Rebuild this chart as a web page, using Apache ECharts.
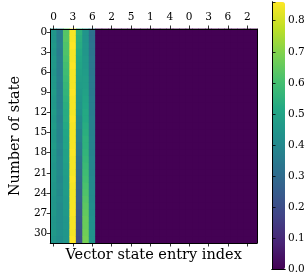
<!DOCTYPE html>
<html>
<head>
<meta charset="utf-8">
<script src="https://cdn.jsdelivr.net/npm/echarts@6/dist/echarts.min.js"></script>
<style>html,body{margin:0;padding:0;background:#fff;}#c{width:308px;height:276px;}</style>
</head>
<body>
<div id="c"></div>
<script>
// x tick labels (entry index mod 7), 32 columns
var xLabels = ['0','1','2','3','4','5','6','0','1','2','3','4','5','6','0','1','2','3','4','5','6','0','1','2','3','4','5','6','0','1','2','3'];
// y labels: state number 0..31
var yLabels = ['0','1','2','3','4','5','6','7','8','9','10','11','12','13','14','15','16','17','18','19','20','21','22','23','24','25','26','27','28','29','30','31'];
// values of the 7 non-zero columns, rows 0..31
var col0 = [0.45,0.45,0.46,0.45,0.46,0.46,0.45,0.46,0.46,0.47,0.46,0.46,0.47,0.46,0.47,0.46,0.46,0.47,0.46,0.46,0.45,0.46,0.46,0.45,0.46,0.45,0.45,0.46,0.45,0.45,0.46,0.45];
var col1 = [0.36,0.36,0.37,0.36,0.37,0.37,0.37,0.38,0.37,0.38,0.38,0.38,0.39,0.38,0.39,0.39,0.39,0.40,0.39,0.40,0.40,0.41,0.40,0.41,0.41,0.42,0.41,0.42,0.42,0.42,0.43,0.42];
var col2 = [0.63,0.63,0.62,0.62,0.61,0.60,0.59,0.58,0.57,0.56,0.55,0.54,0.53,0.53,0.52,0.51,0.50,0.50,0.49,0.49,0.48,0.48,0.47,0.47,0.47,0.46,0.46,0.46,0.45,0.45,0.45,0.45];
var col3 = [0.85,0.85,0.86,0.85,0.85,0.86,0.85,0.85,0.85,0.86,0.85,0.85,0.85,0.86,0.85,0.85,0.85,0.85,0.86,0.85,0.85,0.85,0.86,0.85,0.85,0.85,0.85,0.86,0.85,0.85,0.85,0.86];
var col4 = [0.55,0.54,0.53,0.52,0.51,0.50,0.49,0.48,0.47,0.46,0.45,0.44,0.43,0.41,0.40,0.38,0.37,0.35,0.34,0.32,0.31,0.30,0.29,0.28,0.27,0.26,0.25,0.24,0.23,0.22,0.21,0.20];
var col5 = [0.44,0.44,0.45,0.45,0.46,0.46,0.47,0.48,0.48,0.49,0.50,0.51,0.52,0.52,0.53,0.54,0.55,0.55,0.56,0.57,0.58,0.59,0.60,0.61,0.62,0.63,0.64,0.65,0.66,0.66,0.67,0.68];
var col6 = [0.32,0.32,0.33,0.33,0.34,0.34,0.34,0.35,0.35,0.35,0.36,0.36,0.36,0.37,0.37,0.37,0.38,0.38,0.38,0.39,0.39,0.39,0.40,0.40,0.41,0.41,0.42,0.42,0.43,0.43,0.44,0.44];
var otherColumnValue = 0;
var colorbarTicks = [0,0.1,0.2,0.3,0.4,0.5,0.6,0.7,0.8];
var colorMax = 0.86;

var cols = [col0,col1,col2,col3,col4,col5,col6];
var data = [];
for (var x = 0; x < xLabels.length; x++) {
  for (var y = 0; y < yLabels.length; y++) {
    var v = x < cols.length ? cols[x][y] : otherColumnValue;
    data.push([x, y, v]);
  }
}
var viridis = ['#440154','#482475','#414487','#355f8d','#2a788e','#21918c','#22a884','#44bf70','#7ad151','#bddf26','#fde725'];
var FONT = 'DejaVu Serif';
var lbl = {fontFamily: FONT, fontSize: 10.5, color: '#000'};
var tickStyle = {show: true, interval: 2, alignWithLabel: true, length: 3.5, inside: false, lineStyle: {color: '#000', width: 0.8}};
var lineStyle = {show: true, lineStyle: {color: '#000', width: 1}};

var chart = echarts.init(document.getElementById('c'), null, {renderer: 'canvas'});
var heat = {
  type: 'heatmap', xAxisIndex: 0, yAxisIndex: 0, data: data,
  emphasis: {disabled: true}, progressive: 0, itemStyle: {borderWidth: 0}
};
chart.setOption({
  animation: false,
  backgroundColor: '#fff',
  grid: [
    {left: 41, top: 29, width: 216, height: 214, show: true, backgroundColor: '#440154', borderWidth: 0},
    {left: 272, top: 2, width: 13, height: 267.5}
  ],
  xAxis: [
    {gridIndex: 0, type: 'category', position: 'top', data: xLabels, z: 10,
     axisLine: lineStyle, axisTick: tickStyle,
     axisLabel: Object.assign({interval: 2, margin: 6}, lbl), splitLine: {show: false}},
    {gridIndex: 0, type: 'category', position: 'bottom', data: xLabels, z: 10,
     axisLine: lineStyle, axisTick: tickStyle, axisLabel: {show: false}, splitLine: {show: false},
     name: 'Vector state entry index', nameLocation: 'middle', nameGap: 5,
     nameTextStyle: {fontFamily: FONT, fontSize: 14.5, color: '#000', verticalAlign: 'top'}},
    {gridIndex: 1, type: 'value', position: 'bottom', min: 0, max: 1, z: 10,
     axisLine: lineStyle, axisTick: {show: false}, axisLabel: {show: false}, splitLine: {show: false}},
    {gridIndex: 1, type: 'value', position: 'top', min: 0, max: 1, z: 10,
     axisLine: lineStyle, axisTick: {show: false}, axisLabel: {show: false}, splitLine: {show: false}}
  ],
  yAxis: [
    {gridIndex: 0, type: 'category', position: 'left', inverse: true, data: yLabels, z: 10,
     axisLine: lineStyle, axisTick: tickStyle,
     axisLabel: Object.assign({interval: 2, margin: 3}, lbl), splitLine: {show: false},
     name: 'Number of state', nameLocation: 'middle', nameGap: 23, nameRotate: 90,
     nameTextStyle: {fontFamily: FONT, fontSize: 14.5, color: '#000'}},
    {gridIndex: 0, type: 'category', position: 'right', inverse: true, data: yLabels, z: 10,
     axisLine: lineStyle, axisTick: {show: false}, axisLabel: {show: false}, splitLine: {show: false}},
    {gridIndex: 1, type: 'value', position: 'right', min: 0, max: colorMax, interval: 0.1, z: 10,
     axisLine: lineStyle, axisTick: {show: true, length: 3.5, lineStyle: {color: '#000', width: 0.8}},
     axisLabel: Object.assign({margin: 3, formatter: function (v) { return colorbarTicks.indexOf(Math.round(v*10)/10) >= 0 ? v.toFixed(1) : ''; }}, lbl),
     splitLine: {show: false}},
    {gridIndex: 1, type: 'value', position: 'left', min: 0, max: colorMax, z: 10,
     axisLine: lineStyle, axisTick: {show: false}, axisLabel: {show: false}, splitLine: {show: false}}
  ],
  visualMap: {
    type: 'continuous', min: 0, max: colorMax, calculable: false, showLabel: false,
    text: null, orient: 'vertical', left: 272, top: 2, itemWidth: 13, itemHeight: 267.5,
    padding: 0, seriesIndex: [0, 1], inRange: {color: viridis}
  },
  series: [heat, Object.assign({}, heat)]
});
</script>
</body>
</html>
